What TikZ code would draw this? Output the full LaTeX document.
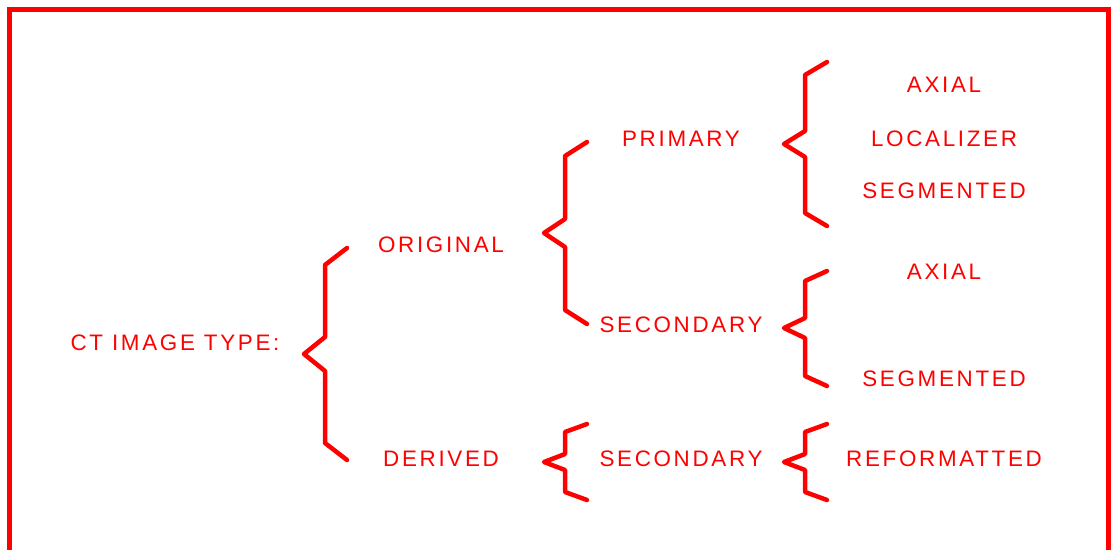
\documentclass[tikz,border=0pt]{standalone}
\usepackage{fontspec}
\setmainfont[LetterSpace=12]{Liberation Sans}
\definecolor{ctred}{RGB}{255,0,0}
\tikzset{
label/.style={text=ctred, font=\fontsize{22.4}{26}\selectfont, inner sep=0pt, anchor=center},
curlystyle/.style={draw=ctred, line width=4.5pt, line cap=round, line join=round}
}
% brace: tip x, top y, middle y, bottom y, corner drop
\newcommand{\curly}[5]{%
\draw[curlystyle] (#1+43,#2) -- (#1+21,#2+#5) -- (#1+21,#3-#5) -- (#1,#3)
  -- (#1+21,#3+#5) -- (#1+21,#4-#5) -- (#1+43,#4);}
\begin{document}
\begin{tikzpicture}[x=1pt, y=-1pt]
\useasboundingbox (0,0) rectangle (1113,549);
\clip (0,0) rectangle (1113,549);
\draw[ctred, line width=5pt] (9.5,9.5) rectangle (1108.5,600);
% labels
\node[label] (ct) at (175,343) {CT IMAGE TYPE:};
\node[label] (orig) at (441,245) {ORIGINAL};
\node[label] (der) at (441,459) {DERIVED};
\node[label] (prim) at (681,139) {PRIMARY};
\node[label] (sec) at (681,325) {SECONDARY};
\node[label] (dsec) at (681,459) {SECONDARY};
\node[label] (ax) at (944,85) {AXIAL};
\node[label] (loc) at (944,139) {LOCALIZER};
\node[label] (seg) at (944,191) {SEGMENTED};
\node[label] (sax) at (944,272) {AXIAL};
\node[label] (sseg) at (944,379) {SEGMENTED};
\node[label] (ref) at (944,459) {REFORMATTED};
% braces
\curly{304}{248}{354}{460}{17}
\curly{544}{142}{233}{324}{14}
\curly{784}{62}{144}{226}{13}
\curly{784}{271}{328}{386}{10}
\curly{544}{424}{462}{500}{8}
\curly{784}{424}{462}{500}{8}
\end{tikzpicture}
\end{document}
